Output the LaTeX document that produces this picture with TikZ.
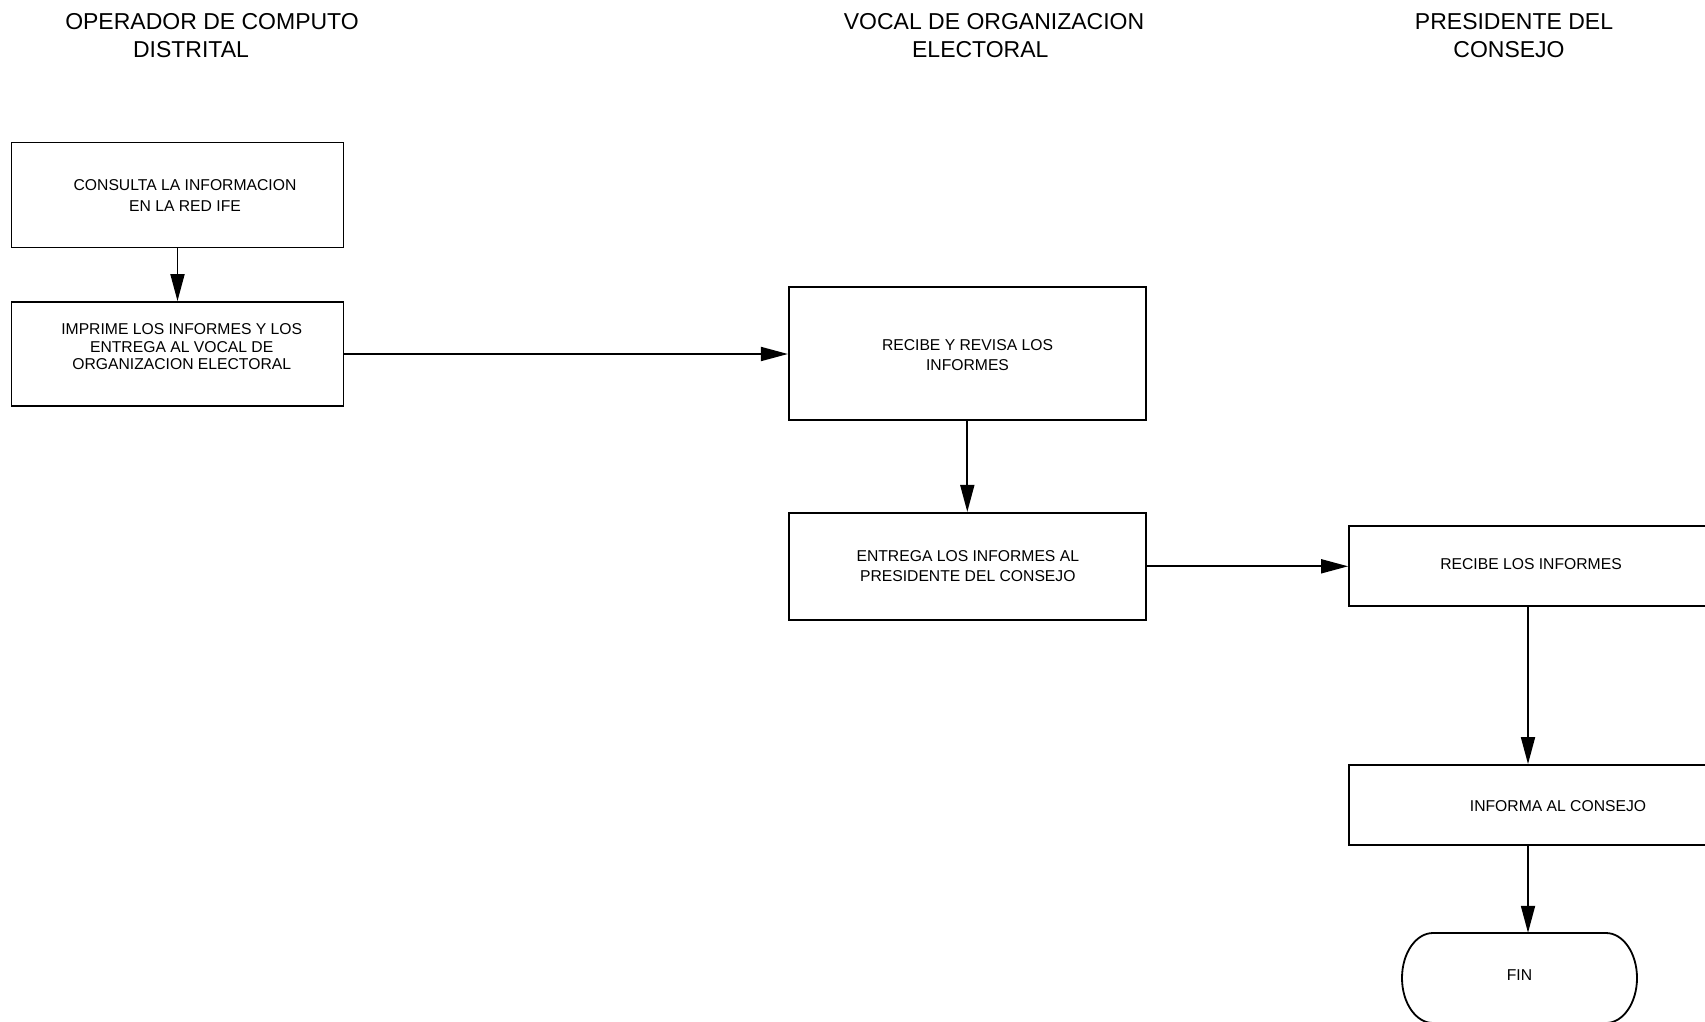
\documentclass[tikz,border=0pt]{standalone}
\usepackage{fontspec}
\setmainfont{Liberation Sans}
\usetikzlibrary{arrows.meta}
\begin{document}
\begin{tikzpicture}[x=1pt,y=-1pt,
  stepbox/.style={draw, line width=1.8pt, inner sep=0pt, fill=white},
  lbl/.style={inner sep=0pt, align=center},
  head/.style={inner sep=0pt, font=\fontsize{23}{28}\selectfont},
  flow/.style={line width=1.8pt, -{Triangle[length=27pt,width=14pt]}}]
\useasboundingbox (0,0) rectangle (1705,1022);
\clip (0,0) rectangle (1705,1022);

% lane headings
\node[head] (h1a) at (212,21.3) {OPERADOR DE COMPUTO};
\node[head] (h1b) at (191,49.3) {DISTRITAL};
\node[head] (h2a) at (994,21.3) {VOCAL DE ORGANIZACION};
\node[head] (h2b) at (980.3,49.3) {ELECTORAL};
\node[head] (h3a) at (1514,21.3) {PRESIDENTE DEL};
\node[head] (h3b) at (1509,49.3) {CONSEJO};

% process boxes
\node[stepbox, minimum width=332pt, minimum height=105pt] (box1) at (177.5,195) {};
\node[stepbox, minimum width=332pt, minimum height=104pt] (box2) at (177.5,354) {};
\node[stepbox, minimum width=357pt, minimum height=133pt] (box3) at (967.3,353.7) {};
\node[stepbox, minimum width=357pt, minimum height=107pt] (box4) at (967.3,566.3) {};
\node[stepbox, minimum width=364pt, minimum height=80pt] (box5) at (1531,566) {};
\node[stepbox, minimum width=418pt, minimum height=80pt] (box6) at (1558,805) {};

% terminator with elliptical ends
\node[inner sep=0pt, minimum width=235pt, minimum height=90pt] (fin) at (1519.5,978) {};
\begin{scope}[shift={(fin.center)}]
  \draw[line width=1.8pt]
    (-86.5,-45) -- (86.5,-45)
    .. controls (103.6,-45) and (117.5,-24.9) .. (117.5,0)
    .. controls (117.5,24.9) and (103.6,45) .. (86.5,45)
    -- (-86.5,45)
    .. controls (-103.6,45) and (-117.5,24.9) .. (-117.5,0)
    .. controls (-117.5,-24.9) and (-103.6,-45) .. cycle;
\end{scope}

% box texts
\node[lbl, font=\fontsize{15.7}{21}\selectfont] (t1) at (185,195.7)
  {CONSULTA LA INFORMACION\\EN LA RED IFE};
\node[lbl, font=\fontsize{15.7}{17.5}\selectfont] (t2) at (181.7,347)
  {IMPRIME LOS INFORMES Y LOS\\ENTREGA AL VOCAL DE\\ORGANIZACION ELECTORAL};
\node[lbl, font=\fontsize{15.7}{20}\selectfont] (t3) at (967.5,355.2)
  {RECIBE Y REVISA LOS\\INFORMES};
\node[lbl, font=\fontsize{15.7}{20}\selectfont] (t4) at (967.8,566.2)
  {ENTREGA LOS INFORMES AL\\PRESIDENTE DEL CONSEJO};
\node[lbl, font=\fontsize{15.7}{20}\selectfont] (t5) at (1531,563.8) {RECIBE LOS INFORMES};
\node[lbl, font=\fontsize{15.7}{20}\selectfont] (t6) at (1558,806.2) {INFORMA AL CONSEJO};
\node[lbl, font=\fontsize{15.7}{20}\selectfont] (t7) at (1519.5,975.5) {FIN};

% connectors
\coordinate (rcol) at (1528,0);
\draw[flow] (box1.south) -- (box2.north);
\draw[flow] (box2.east) -- (box2.east -| box3.west);
\draw[flow] (box3.south) -- (box4.north);
\draw[flow] (box4.east) -- (box4.east -| box5.west);
\draw[flow] (box5.south -| rcol) -- (box6.north -| rcol);
\draw[flow] (box6.south -| rcol) -- (fin.north -| rcol);
\end{tikzpicture}
\end{document}
